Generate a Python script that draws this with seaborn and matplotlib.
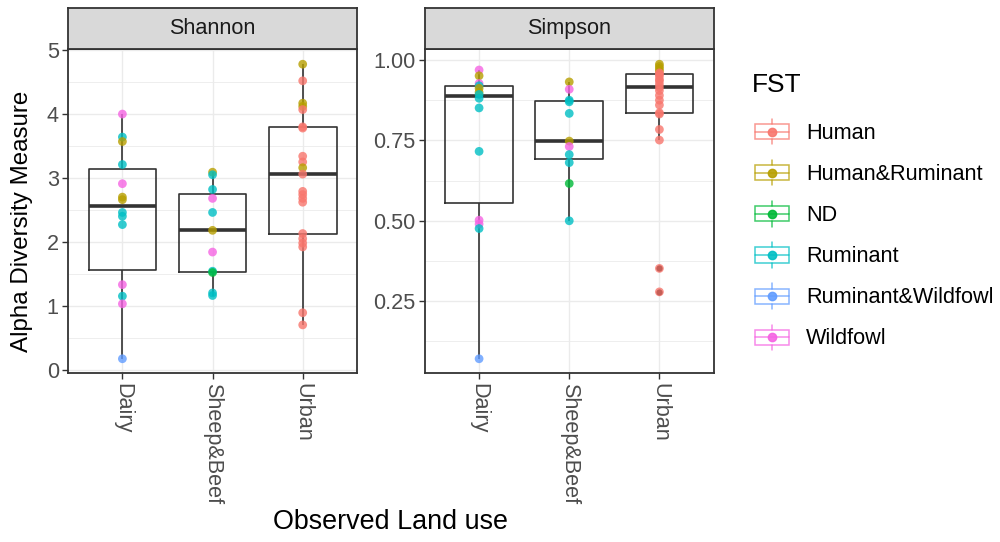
import numpy as np
import pandas as pd
import matplotlib
matplotlib.use("Agg")
import matplotlib.pyplot as plt
import seaborn as sns
from matplotlib.ticker import MultipleLocator, FormatStrFormatter
from matplotlib.patches import Rectangle
from matplotlib.lines import Line2D
from matplotlib.legend_handler import HandlerBase

# categories
lands = ["Dairy", "Sheep&Beef", "Urban"]
fst_levels = ["Human", "Human&Ruminant", "ND", "Ruminant", "Ruminant&Wildfowl", "Wildfowl"]
fst_colors = ["#F8766D", "#B79F00", "#00BA38", "#00BFC4", "#619CFF", "#F564E3"]

# Shannon values
shannon_dairy = [4.00, 3.64, 3.57, 3.21, 2.91, 2.70, 2.66, 2.46, 2.40, 2.27, 1.33, 1.15, 1.03, 0.17]
shannon_dairy_fst = ["Wildfowl", "Ruminant", "Human&Ruminant", "Ruminant", "Wildfowl", "Human&Ruminant",
                     "Human&Ruminant", "Ruminant", "Ruminant", "Ruminant", "Wildfowl", "Ruminant",
                     "Wildfowl", "Ruminant&Wildfowl"]
shannon_sheep = [3.09, 3.05, 2.82, 2.68, 2.46, 2.18, 1.84, 1.54, 1.52, 1.20, 1.16]
shannon_sheep_fst = ["Human&Ruminant", "Ruminant", "Ruminant", "Wildfowl", "Ruminant", "Human&Ruminant",
                     "Wildfowl", "Ruminant", "ND", "Ruminant", "Ruminant"]
shannon_urban = [4.78, 4.52, 4.17, 4.12, 4.07, 3.80, 3.78, 3.34, 3.25, 3.16, 3.06,
                 2.79, 2.74, 2.68, 2.62, 2.13, 2.05, 1.98, 1.92, 0.89, 0.70]
shannon_urban_fst = ["Human&Ruminant", "Human", "Human&Ruminant", "Human&Ruminant", "Human", "Human",
                     "Human", "Human", "Human", "Human&Ruminant", "Human", "Human", "Human", "Human",
                     "Human", "Human", "Human", "Human", "Human", "Human", "Human"]

# Simpson values
simpson_dairy = [0.969, 0.951, 0.927, 0.920, 0.912, 0.900, 0.893, 0.881, 0.851, 0.716, 0.502, 0.490, 0.476, 0.071]
simpson_dairy_fst = ["Wildfowl", "Human&Ruminant", "Wildfowl", "Ruminant", "Human&Ruminant", "Human&Ruminant",
                     "Ruminant", "Ruminant", "Ruminant", "Ruminant", "Wildfowl", "Wildfowl", "Ruminant",
                     "Ruminant&Wildfowl"]
simpson_sheep = [0.932, 0.909, 0.875, 0.870, 0.834, 0.748, 0.731, 0.706, 0.681, 0.616, 0.500]
simpson_sheep_fst = ["Human&Ruminant", "Wildfowl", "Ruminant", "Ruminant", "Ruminant", "Human&Ruminant",
                     "Wildfowl", "Ruminant", "Ruminant", "ND", "Ruminant"]
simpson_urban = [0.987, 0.980, 0.973, 0.966, 0.960, 0.956, 0.950, 0.940, 0.935, 0.925, 0.915,
                 0.905, 0.890, 0.875, 0.860, 0.836, 0.832, 0.784, 0.751, 0.352, 0.279]
simpson_urban_fst = ["Human&Ruminant"] * 4 + ["Human"] * 17

measures = ["Shannon", "Simpson"]


def make_df(measure, vals, fsts, land):
    return pd.DataFrame({"measure": measure, "land": land, "fst": fsts, "value": vals})


df = pd.concat([
    make_df("Shannon", shannon_dairy, shannon_dairy_fst, "Dairy"),
    make_df("Shannon", shannon_sheep, shannon_sheep_fst, "Sheep&Beef"),
    make_df("Shannon", shannon_urban, shannon_urban_fst, "Urban"),
    make_df("Simpson", simpson_dairy, simpson_dairy_fst, "Dairy"),
    make_df("Simpson", simpson_sheep, simpson_sheep_fst, "Sheep&Beef"),
    make_df("Simpson", simpson_urban, simpson_urban_fst, "Urban"),
], ignore_index=True)

sns.set_theme(style="white")
plt.rcParams["font.family"] = ["Liberation Sans", "DejaVu Sans"]

BORDER = "#333333"
GRID = "#EBEBEB"
TXT = "#4D4D4D"
SMALL = 15.6

fig = plt.figure(figsize=(10, 5.42), dpi=100)
panel_left = [0.0683, 0.425]
panel_w = 0.2885
panel_b = 0.3109
panel_h = 0.5978
strip_h = 0.076

for i, m in enumerate(measures):
    ax = fig.add_axes([panel_left[i], panel_b, panel_w, panel_h])
    sub = df[df["measure"] == m]
    sns.boxplot(data=sub, x="land", y="value", order=lands, width=0.75, fill=False,
                color=BORDER, linewidth=1.2, showcaps=False,
                medianprops=dict(linewidth=2.6, color=BORDER),
                flierprops=dict(marker="o", markersize=4.5, markerfacecolor="black",
                                markeredgewidth=0, zorder=1),
                ax=ax)
    sns.stripplot(data=sub, x="land", y="value", order=lands, hue="fst", hue_order=fst_levels,
                  palette=fst_colors, jitter=False, size=6.3, alpha=0.8, linewidth=0,
                  legend=False, ax=ax, zorder=5)

    lo, hi = sub["value"].min(), sub["value"].max()
    pad = (hi - lo) * 0.05
    ax.set_ylim(lo - pad, hi + pad)
    ax.set_xlim(-0.6, 2.6)
    if m == "Shannon":
        ax.yaxis.set_major_locator(MultipleLocator(1))
        ax.yaxis.set_minor_locator(MultipleLocator(0.5))
        ax.yaxis.set_major_formatter(FormatStrFormatter("%d"))
    else:
        ax.yaxis.set_major_locator(MultipleLocator(0.25))
        ax.yaxis.set_minor_locator(MultipleLocator(0.125))
        ax.yaxis.set_major_formatter(FormatStrFormatter("%.2f"))

    ax.set_axisbelow(True)
    ax.grid(which="major", color=GRID, linewidth=1.0)
    ax.grid(which="minor", axis="y", color=GRID, linewidth=0.6)
    ax.tick_params(axis="both", which="major", length=4.3, width=1.0, color=BORDER,
                   labelcolor=TXT, labelsize=SMALL, direction="out", bottom=True, left=True,
                   pad=2.5)
    ax.tick_params(which="minor", length=0)
    for lab in ax.get_xticklabels():
        lab.set_rotation(-90)
        lab.set_va("top")
        lab.set_ha("center")
    for s in ax.spines.values():
        s.set_color(BORDER)
        s.set_linewidth(1.3)
    ax.set_xlabel("")
    ax.set_ylabel("")

    # facet strip
    sax = fig.add_axes([panel_left[i], panel_b + panel_h, panel_w, strip_h])
    sax.set_facecolor("#D9D9D9")
    sax.set_xticks([])
    sax.set_yticks([])
    for s in sax.spines.values():
        s.set_color(BORDER)
        s.set_linewidth(1.3)
    sax.text(0.5, 0.5, m, ha="center", va="center", fontsize=SMALL, color="#1A1A1A",
             transform=sax.transAxes)

fig.text(0.022, 1 - 221 / 542, "Alpha Diversity Measure", rotation=90,
         ha="center", va="center", fontsize=17.4, color="black")
fig.text((panel_left[0] + panel_left[1] + panel_w) / 2, 0.037, "Observed Land use",
         ha="center", va="center", fontsize=19.4, color="black")


class BoxKey(HandlerBase):
    def create_artists(self, legend, orig_handle, xdescent, ydescent, width, height, fontsize, trans):
        c = orig_handle.get_color()
        x0, y0 = -xdescent, -ydescent
        cx, cy = x0 + width / 2, y0 + height / 2
        bh = height * 0.6
        rect = Rectangle((x0, cy - bh / 2), width, bh, facecolor="white", edgecolor=c,
                         lw=1.1, alpha=0.75, transform=trans)
        w1 = Line2D([cx, cx], [y0, cy - bh / 2], color=c, lw=1.1, alpha=0.75, transform=trans)
        w2 = Line2D([cx, cx], [cy + bh / 2, y0 + height], color=c, lw=1.1, alpha=0.75, transform=trans)
        med = Line2D([x0, x0 + width], [cy, cy], color=c, lw=1.1, alpha=0.75, transform=trans)
        dot = Line2D([cx], [cy], marker="o", markersize=6, color=c, alpha=0.9,
                     linestyle="none", transform=trans)
        return [rect, w1, w2, med, dot]


fig.text(0.752, 1 - 85 / 542, "FST", ha="left", va="center", fontsize=19, color="black")
handles = [Line2D([], [], color=c) for c in fst_colors]
leg = fig.legend(handles, fst_levels, loc="upper left",
                 bbox_to_anchor=(0.755, 1 - 119 / 542), frameon=False, fontsize=SMALL,
                 handler_map={Line2D: BoxKey()},
                 handlelength=1.55, handleheight=1.42, labelspacing=0.73,
                 handletextpad=0.8, borderaxespad=0, borderpad=0)
for t in leg.get_texts():
    t.set_color("black")

fig.savefig("out.png", dpi=100)
